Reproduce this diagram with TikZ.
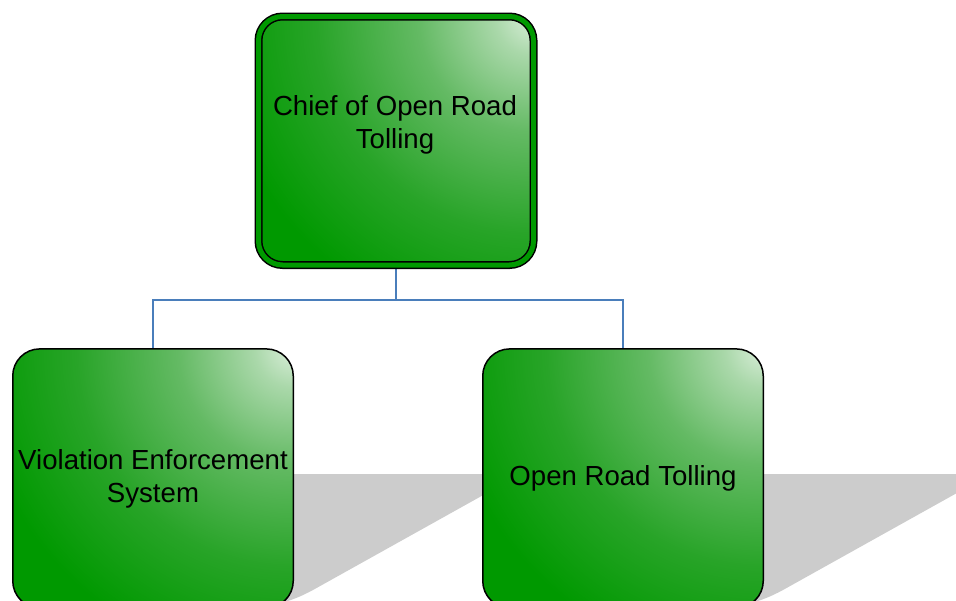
\documentclass[tikz,border=0pt]{standalone}
\usepackage{fontspec}
\setmainfont{Liberation Sans}
\definecolor{gr}{RGB}{0,153,0}
\definecolor{hl}{RGB}{218,238,218}
\definecolor{hltwo}{RGB}{170,216,170}
\definecolor{mid}{RGB}{100,186,100}
\definecolor{midtwo}{RGB}{40,164,40}
\definecolor{linkblue}{RGB}{74,126,187}
\definecolor{shadowgray}{RGB}{204,204,204}
\pgfdeclareradialshading{glow}{\pgfpoint{0bp}{0bp}}{color(0bp)=(hl); color(3bp)=(hltwo); color(9bp)=(mid); color(17bp)=(midtwo); color(25bp)=(gr); color(50bp)=(gr)}
\pgfdeclarelayer{bg}
\pgfsetlayers{bg,main}
\tikzset{
  box/.style={draw=black, line width=1.5pt, rounded corners=27pt,
    minimum width=280.5pt, minimum height=259pt, inner sep=0pt, align=center,
    font=\fontsize{27.6}{33}\selectfont,
    path picture={
      \fill[gr] (path picture bounding box.south west) rectangle (path picture bounding box.north east);
      \shade[shading=glow] (path picture bounding box.north east) circle (320pt);
    }},
  topbox/.style={box, double=gr, double distance=5pt, rounded corners=24pt,
    minimum width=275pt, minimum height=248.5pt},
  lbl/.style={align=center, inner sep=0pt, font=\fontsize{27.6}{33}\selectfont},
  conn/.style={draw=linkblue, line width=1.6pt},
  shadowshape/.style={fill=shadowgray}
}
\begin{document}
\begin{tikzpicture}[x=1pt,y=-1pt]
\useasboundingbox (0,0) rectangle (956,600);
\node[topbox] (top) at (396,140.75) {};
\node[lbl, anchor=base] (toptext) at (395,148) {Chief of Open Road\\Tolling};
\node[box] (left) at (153,478.4) {Violation Enforcement\\System};
\node[box] (right) at (623,478.4) {Open Road Tolling};
\begin{pgfonlayer}{bg}
  \fill[shadowshape] (150,474) -- (521,474) -- (313,590) .. controls (300,597) and (292,600) .. (278,604) -- (150,604) -- cycle;
  \fill[shadowshape] (620,474) -- (991,474) -- (783,590) .. controls (770,597) and (762,600) .. (748,604) -- (620,604) -- cycle;
  \draw[conn] (top.south) -- ++(0,34) coordinate (j) -| (left.north);
  \draw[conn] (j) -| (right.north);
\end{pgfonlayer}
\end{tikzpicture}
\end{document}
